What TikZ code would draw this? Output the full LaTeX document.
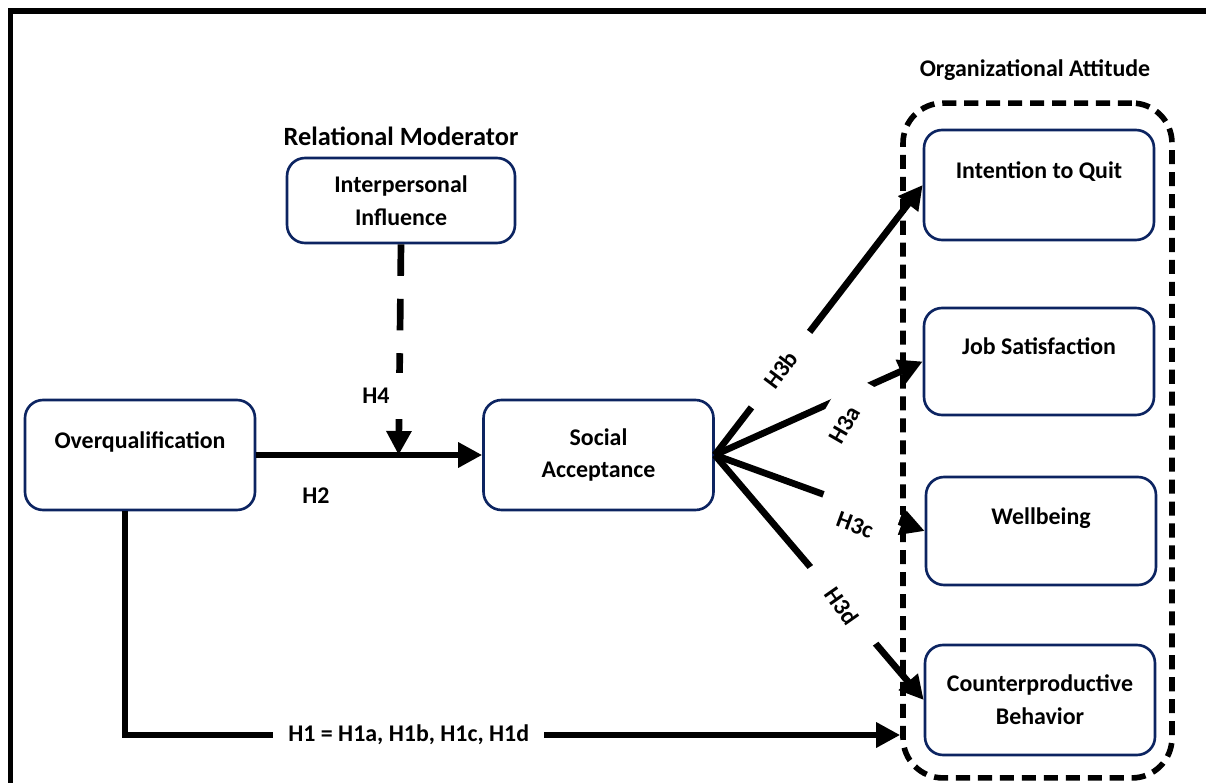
\documentclass[tikz,border=0pt]{standalone}
\usepackage{fontspec}
\setmainfont{Carlito}
\usetikzlibrary{arrows.meta}
\definecolor{boxnavy}{RGB}{12,36,97}
\tikzset{
  box/.style={draw=boxnavy, line width=1.5pt, rounded corners=0.36cm,
    minimum width=4.6cm, minimum height=2.2cm, align=center,
    font=\bfseries\fontsize{13.6}{18.7}\selectfont},
  raised/.style={text depth=17pt},
  group/.style={draw, line width=3.2pt, dash pattern=on 8pt off 4.5pt,
    rounded corners=0.8cm},
  link/.style={line width=3.8pt, -{Triangle[length=0.48cm,width=0.48cm]}},
  moddash/.style={link, dash pattern=on 18pt off 13pt},
  hyp/.style={fill=white, font=\bfseries\fontsize{13.6}{16}\selectfont},
  heading/.style={font=\bfseries\fontsize{13.6}{16}\selectfont}
}
\begin{document}
\begin{tikzpicture}[x=0.02cm, y=-0.02cm]
\useasboundingbox (0,0) rectangle (1206,783);
\draw[line width=3.2pt] (10.5,11) rectangle (1240,800);

\node[heading, font=\bfseries\fontsize{15}{18}\selectfont] (rm) at (401,136) {Relational Moderator};
\node[heading] (oat) at (1035,70) {Organizational Attitude};

\node[box, raised] (oq) at (140,455) {Overqualification};
\node[box] (sa) at (598.5,455) {Social\\Acceptance};
\node[box, minimum width=4.56cm, minimum height=1.7cm] (ii) at (401,200.5) {Interpersonal\\Influence};

\node[group, minimum width=5.38cm, minimum height=13.5cm] (oa) at (1037.5,440.5) {};
\node[box, raised] (itq) at (1039,185) {Intention to Quit};
\node[box, raised, minimum height=2.14cm] (js) at (1039,361.5) {Job Satisfaction};
\node[box, raised, minimum height=2.16cm] (wb) at (1041,531) {Wellbeing};
\node[box] (cb) at (1040,700) {Counterproductive\\Behavior};

\draw[link] (oq.east) -- coordinate[pos=0.63] (h2mid) (sa.west);
\draw[moddash] (ii.south) -- (h2mid);
\coordinate (h1y) at (0,735);
\draw[link] ([xshift=-0.3cm]oq.south) |- node[hyp, pos=0.683, inner xsep=0.3cm] (h1) {H1 = H1a, H1b, H1c, H1d} (oa.west |- h1y);

\draw[link] (sa.east) -- (itq.west);
\draw[link] (sa.east) -- (js.west);
\draw[link] (sa.east) -- (wb.west);
\draw[link] (sa.east) -- (cb.west);

\node[hyp, fill=none] (h2) at (316,496) {H2};
\node[hyp, inner sep=0.3cm] (h4) at (376,396) {H4};
\node[hyp, rotate=53, minimum width=1.9cm, minimum height=0.9cm] (h3b) at (781,370) {H3b};
\node[hyp, rotate=60, minimum width=1.9cm, minimum height=1cm] (h3a) at (845,425) {H3a};
\node[hyp, rotate=-20, minimum width=1.6cm, minimum height=1cm] (h3c) at (855,525) {H3c};
\node[hyp, rotate=-55, minimum width=2cm, minimum height=0.9cm] (h3d) at (842,606) {H3d};
\end{tikzpicture}
\end{document}
